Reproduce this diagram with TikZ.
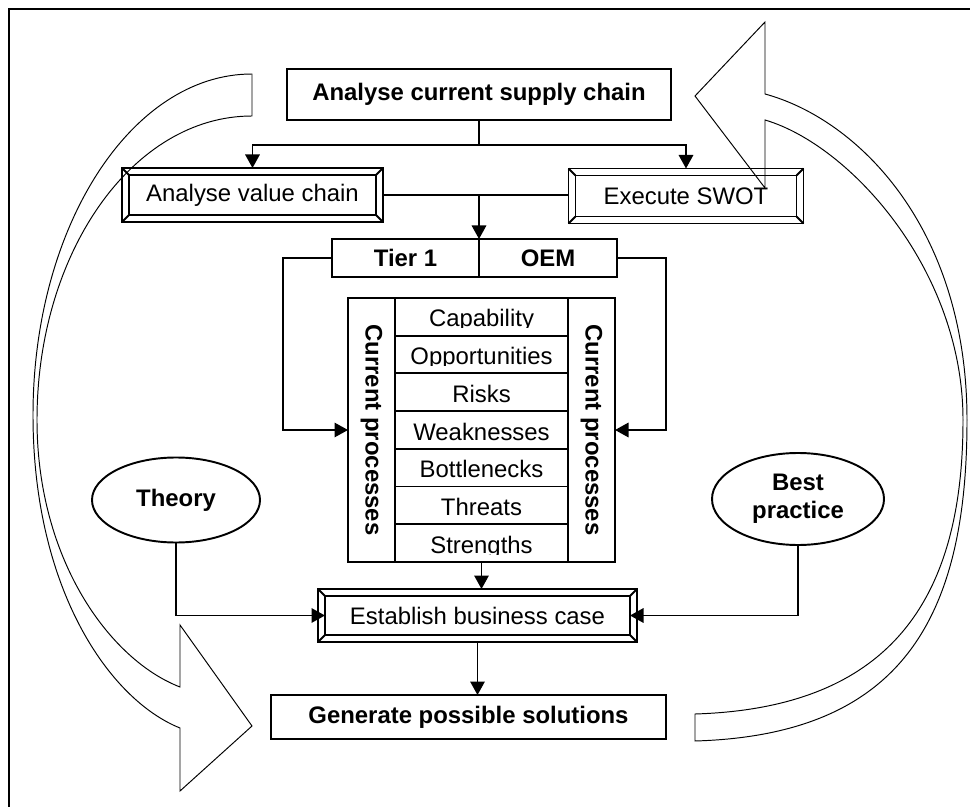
\documentclass[tikz,border=0pt]{standalone}
\usepackage{fontspec}
\setmainfont{Liberation Sans}
\usepackage{tikz}
\usetikzlibrary{arrows.meta,calc,positioning,shapes.geometric}
\newcommand{\figfont}{\fontsize{13.6}{16}\selectfont}

\begin{document}
\begin{tikzpicture}[
    x=0.2mm, y=-0.2mm,
    font=\figfont,
    plainbox/.style={draw, line width=1.1pt, inner sep=0pt, outer sep=0pt, align=center},
    boldbox/.style={plainbox, font=\figfont\bfseries},
    bevelbox/.style={plainbox},
    bevel/.style={line width=1.1pt},
    cell/.style={draw, line width=1.1pt, inner sep=0pt, outer sep=0pt, minimum width=34.6mm,
                 minimum height=7.54mm},
    pcol/.style={draw, line width=1.1pt, inner sep=0pt, outer sep=0pt, minimum width=9.4mm,
                 minimum height=52.8mm},
    oval/.style={ellipse, draw, line width=1.1pt, inner sep=0pt, outer sep=0pt, align=center,
                 font=\figfont\bfseries},
    arrow/.style={-{Triangle[length=2.7mm,width=2.9mm]}, line width=0.9pt},
    bigarrow/.style={line width=0.55pt, line join=miter}
]
\useasboundingbox (0,0) rectangle (970,807);
\draw[line width=1.3pt] (9,807) -- (9,9) -- (970,9);

\node[boldbox, minimum width=76.8mm, minimum height=10.2mm] (acs) at (479,94.5)
    {Analyse current supply chain};
\node[bevelbox, minimum width=52.2mm, minimum height=10.8mm] (avc) at (252.5,195)
    {Analyse value chain};
\node[bevelbox, minimum width=47mm, minimum height=11mm] (swot) at (686,196)
    {Execute SWOT};
\node[boldbox, minimum width=29.4mm, minimum height=7.6mm] (tier) at (405.5,258)
    {Tier 1};
\node[boldbox, minimum width=27.6mm, minimum height=7.6mm, right=0pt of tier] (oem)
    {OEM};

% SWOT table with process columns
\node[pcol] (lcol) at (371.5,430) {};
\node[pcol] (rcol) at (591.5,430) {};
\node[rotate=-90, font=\figfont\bfseries] (lcollab) at (lcol) {Current processes};
\node[rotate=-90, font=\figfont\bfseries] (rcollab) at (rcol) {Current processes};
\foreach \txt [count=\i] in {Capability,Opportunities,Risks,Weaknesses,Bottlenecks,Threats,Strengths} {
  \node[cell] (cell\i) at (481.5,{279.15+37.7*\i}) {};
  \begin{scope}
    \clip (cell\i.north west) rectangle ($(cell\i.north east)+(0,30)$);
    \node[anchor=base, inner sep=0pt] (lab\i) at ($(cell\i.north)+(0,29)$) {\txt};
  \end{scope}
}

\node[oval, minimum width=33.6mm, minimum height=17mm] (theory) at (176,500) {Theory};
\node[oval, minimum width=34.4mm, minimum height=18.4mm] (best) at (798,499)
    {Best\\practice};
\node[bevelbox, minimum width=63.8mm, minimum height=10.6mm] (ebc) at (477.5,615.5)
    {Establish business case};
\node[boldbox, minimum width=79mm, minimum height=8.8mm] (gps) at (468.5,717)
    {Generate possible solutions};

% bevelled frames
\foreach \b in {avc,swot,ebc} {
  \draw[bevel] ($(\b.north west)+(7,7)$) rectangle ($(\b.south east)+(-7,-7)$);
  \draw[bevel] (\b.north west) -- ++(7,7);
  \draw[bevel] (\b.north east) -- ++(-7,7);
  \draw[bevel] (\b.south west) -- ++(7,-7);
  \draw[bevel] (\b.south east) -- ++(-7,-7);
}

\draw[arrow] (acs.south) -- ++(0,25) -| (avc.north);
\draw[arrow] (acs.south) -- ++(0,25) -| (swot.north);
\draw[line width=0.9pt] (avc.east) -- (avc.east -| swot.west);
\draw[arrow] (avc.east -| tier.north east) -- (tier.north east);
\draw[arrow] (tier.west) -- ++(-49,0) |- (lcol.west);
\draw[arrow] (oem.east) -- ++(49,0) |- (rcol.east);
\draw[arrow] (cell7.south) -- (cell7.south |- ebc.north);
\draw[arrow, shorten >=-1.4mm] (theory.south) |- (ebc.west);
\draw[arrow, shorten >=-1.4mm] (best.south) |- (ebc.east);
\draw[arrow] (ebc.south) -- (ebc.south |- gps.north);

% big curved arrows
\draw[bigarrow] (252,74) .. controls (131,74) and (33,227) .. (33,415)
    .. controls (33,590) and (110,700) .. (180,728) -- (180,791) -- (252,726)
    -- (180,625) -- (180,687) .. controls (110,660) and (37,560) .. (37,420)
    .. controls (37,252) and (133,116) .. (252,116) -- cycle;
\draw[bigarrow] (765,94) .. controls (860,120) and (967,230) .. (967,420)
    .. controls (967,620) and (900,735) .. (695,741) -- (695,714)
    .. controls (890,708) and (963,600) .. (963,420)
    .. controls (963,270) and (850,145) .. (765,120) -- (765,188) -- (695,96)
    -- (765,22) -- cycle;
\end{tikzpicture}
\end{document}
